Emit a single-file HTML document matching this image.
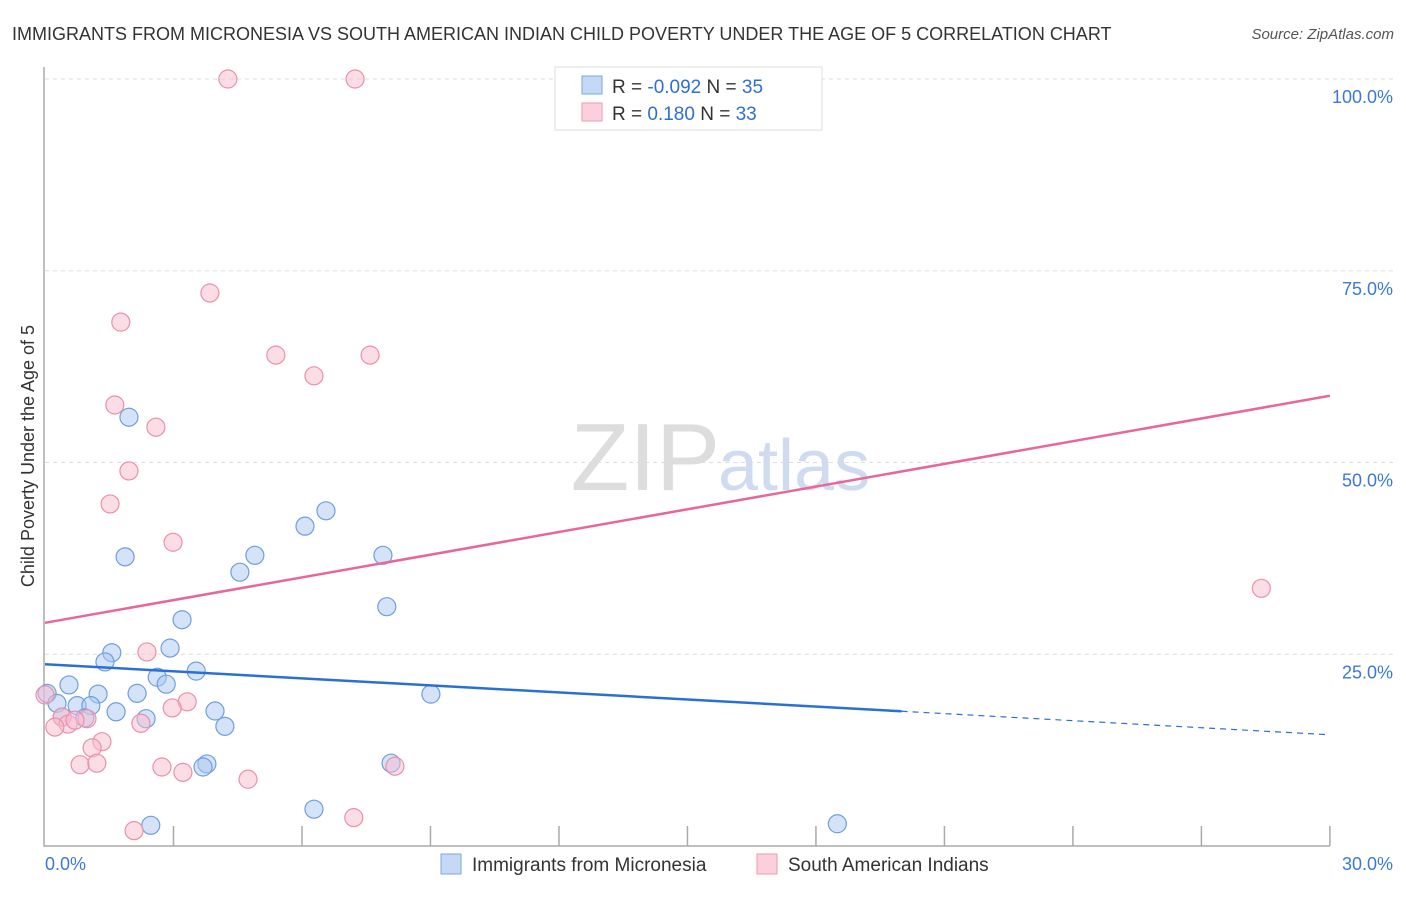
<!DOCTYPE html>
<html><head><meta charset="utf-8"><style>
body{margin:0;background:#fff;font-family:"Liberation Sans",sans-serif;}
svg text{font-family:"Liberation Sans",sans-serif;}
</style></head><body>
<svg width="1406" height="892" viewBox="0 0 1406 892">
<text x="12" y="40" font-size="18" fill="#333">IMMIGRANTS FROM MICRONESIA VS SOUTH AMERICAN INDIAN CHILD POVERTY UNDER THE AGE OF 5 CORRELATION CHART</text>
<text x="1394" y="39" font-size="15" fill="#555" font-style="italic" text-anchor="end">Source: ZipAtlas.com</text>
<g id="grid"></g>
<text x="720" y="490" font-size="96" fill="#ddd" font-family="Liberation Serif" text-anchor="end">ZIP</text>
<text x="718" y="490" font-size="72" fill="#cfdcef">atlas</text>
<g id="axes"></g>
<g id="marks"></g>
<text x="34" y="456" font-size="18" fill="#333" text-anchor="middle" transform="rotate(-90 34 456)">Child Poverty Under the Age of 5</text>
<g>
<rect x="555" y="67" width="267" height="63" fill="#fff" stroke="#ddd"/>
<rect x="582" y="76" width="20" height="18" fill="#c5d9f5" stroke="#7aa6e6"/>
<rect x="582" y="103" width="20" height="18" fill="#fbd0dc" stroke="#ee9ab3"/>
<text x="612" y="93" font-size="19" fill="#333">R = <tspan fill="#2e6fd4">-0.092</tspan>   N = <tspan fill="#2e6fd4">35</tspan></text>
<text x="612" y="120" font-size="19" fill="#333">R =  <tspan fill="#2e6fd4"> 0.180</tspan>   N = <tspan fill="#2e6fd4">33</tspan></text>
</g>
<g>
<rect x="441" y="854" width="20" height="20" fill="#c5d9f5" stroke="#7aa6e6"/>
<text x="472" y="871" font-size="19" fill="#333">Immigrants from Micronesia</text>
<rect x="757" y="854" width="20" height="20" fill="#fbd0dc" stroke="#ee9ab3"/>
<text x="788" y="871" font-size="19" fill="#333">South American Indians</text>
</g>
</svg>
<script>
const yTicks=[25,50,75,100];
const yTickLabels=["25.0%","50.0%","75.0%","100.0%"];
const xTicks=[0,3,6,9,12,15,18,21,24,27,30];
const blueX=[1.96,1.87,6.07,6.56,4.90,4.55,7.89,7.98,3.20,2.92,1.56,1.40,3.53,2.62,2.83,0.56,1.24,2.15,9.01,0.05,0.28,0.75,1.07,1.66,3.97,0.93,2.36,4.20,3.78,3.69,8.08,6.28,2.47,18.5,0.4];
const blueY=[55.9,37.7,41.7,43.7,37.9,35.7,37.9,31.2,29.5,25.8,25.2,24.0,22.8,22.0,21.1,21.0,19.8,19.9,19.8,19.9,18.6,18.3,18.3,17.5,17.6,16.7,16.6,15.6,10.7,10.3,10.8,4.8,2.7,2.9,16.8];
const pinkX=[4.27,7.24,3.85,1.77,5.39,7.59,6.28,1.63,2.59,1.96,1.52,2.99,28.4,2.38,3.32,2.97,0.40,0.98,0.54,2.24,0.23,1.33,1.10,0.82,1.21,2.73,3.22,8.17,4.74,7.21,2.08,0.0,0.7];
const pinkY=[100,100,72.1,68.3,64.0,64.0,61.3,57.5,54.6,48.9,44.6,39.6,33.6,25.3,18.8,18.0,16.8,16.6,15.9,16.0,15.5,13.6,12.8,10.6,10.8,10.3,9.6,10.4,8.7,3.7,2.0,19.7,16.4];
const blueTrend=[23.7,14.5];
const pinkTrend=[29.1,58.7];
const blueSolidEnd=20;
const NS="http://www.w3.org/2000/svg";
const X=v=>45+v*42.83, Y=v=>846-v*7.67;
function mk(t,a,p){const e=document.createElementNS(NS,t);for(const k in a)e.setAttribute(k,a[k]);p.appendChild(e);return e;}
const grid=document.getElementById('grid'),axes=document.getElementById('axes'),marks=document.getElementById('marks');
yTicks.forEach((t,i)=>{
 const l=mk('line',{x1:45,x2:1395,y1:Y(t),y2:Y(t),stroke:'#ddd','stroke-dasharray':'4,4'},grid);
 
 
 const tx=mk('text',{x:1393,y:Y(t)+24,'font-size':18,fill:'#3d78d8','text-anchor':'end'},axes);
 tx.textContent=yTickLabels[i];
 
 
});
const ax=mk('path',{d:`M44 67 V846 H1330`,fill:'none',stroke:'#aaa','stroke-width':1.5},axes);


xTicks.forEach(t=>{if(t===0)return;const l=mk('line',{x1:X(t),x2:X(t),y1:826,y2:846,stroke:'#aaa','stroke-width':1.5},axes);
 
 });
const x0=mk('text',{x:45,y:870,'font-size':18,fill:'#3d78d8'},axes);x0.textContent='0.0%';


const x1=mk('text',{x:1393,y:870,'font-size':18,fill:'#3d78d8','text-anchor':'end'},axes);x1.textContent='30.0%';


function pts(xs,ys,fill,stroke,name){xs.forEach((x,i)=>{const c=mk('circle',{cx:X(x),cy:Y(ys[i]),r:9,fill:fill,'fill-opacity':0.5,stroke:stroke,'stroke-width':1.2},marks);
 
 });}
pts(blueX,blueY,'#a9c8f0','#6e9fe0','micronesia-point');
pts(pinkX,pinkY,'#f8bccd','#ec8fab','south-american-point');
const tb=v=>blueTrend[0]+(blueTrend[1]-blueTrend[0])*v/30;
let l=mk('line',{x1:X(0),y1:Y(tb(0)),x2:X(blueSolidEnd),y2:Y(tb(blueSolidEnd)),stroke:'#2a6fd6','stroke-width':2.5},marks);


l=mk('line',{x1:X(blueSolidEnd),y1:Y(tb(blueSolidEnd)),x2:X(30),y2:Y(tb(30)),stroke:'#2a6fd6','stroke-width':1.2,'stroke-dasharray':'6,5'},marks);


l=mk('line',{x1:X(0),y1:Y(pinkTrend[0]),x2:X(30),y2:Y(pinkTrend[1]),stroke:'#e8679a','stroke-width':2.5},marks);


</script>
</body></html>
